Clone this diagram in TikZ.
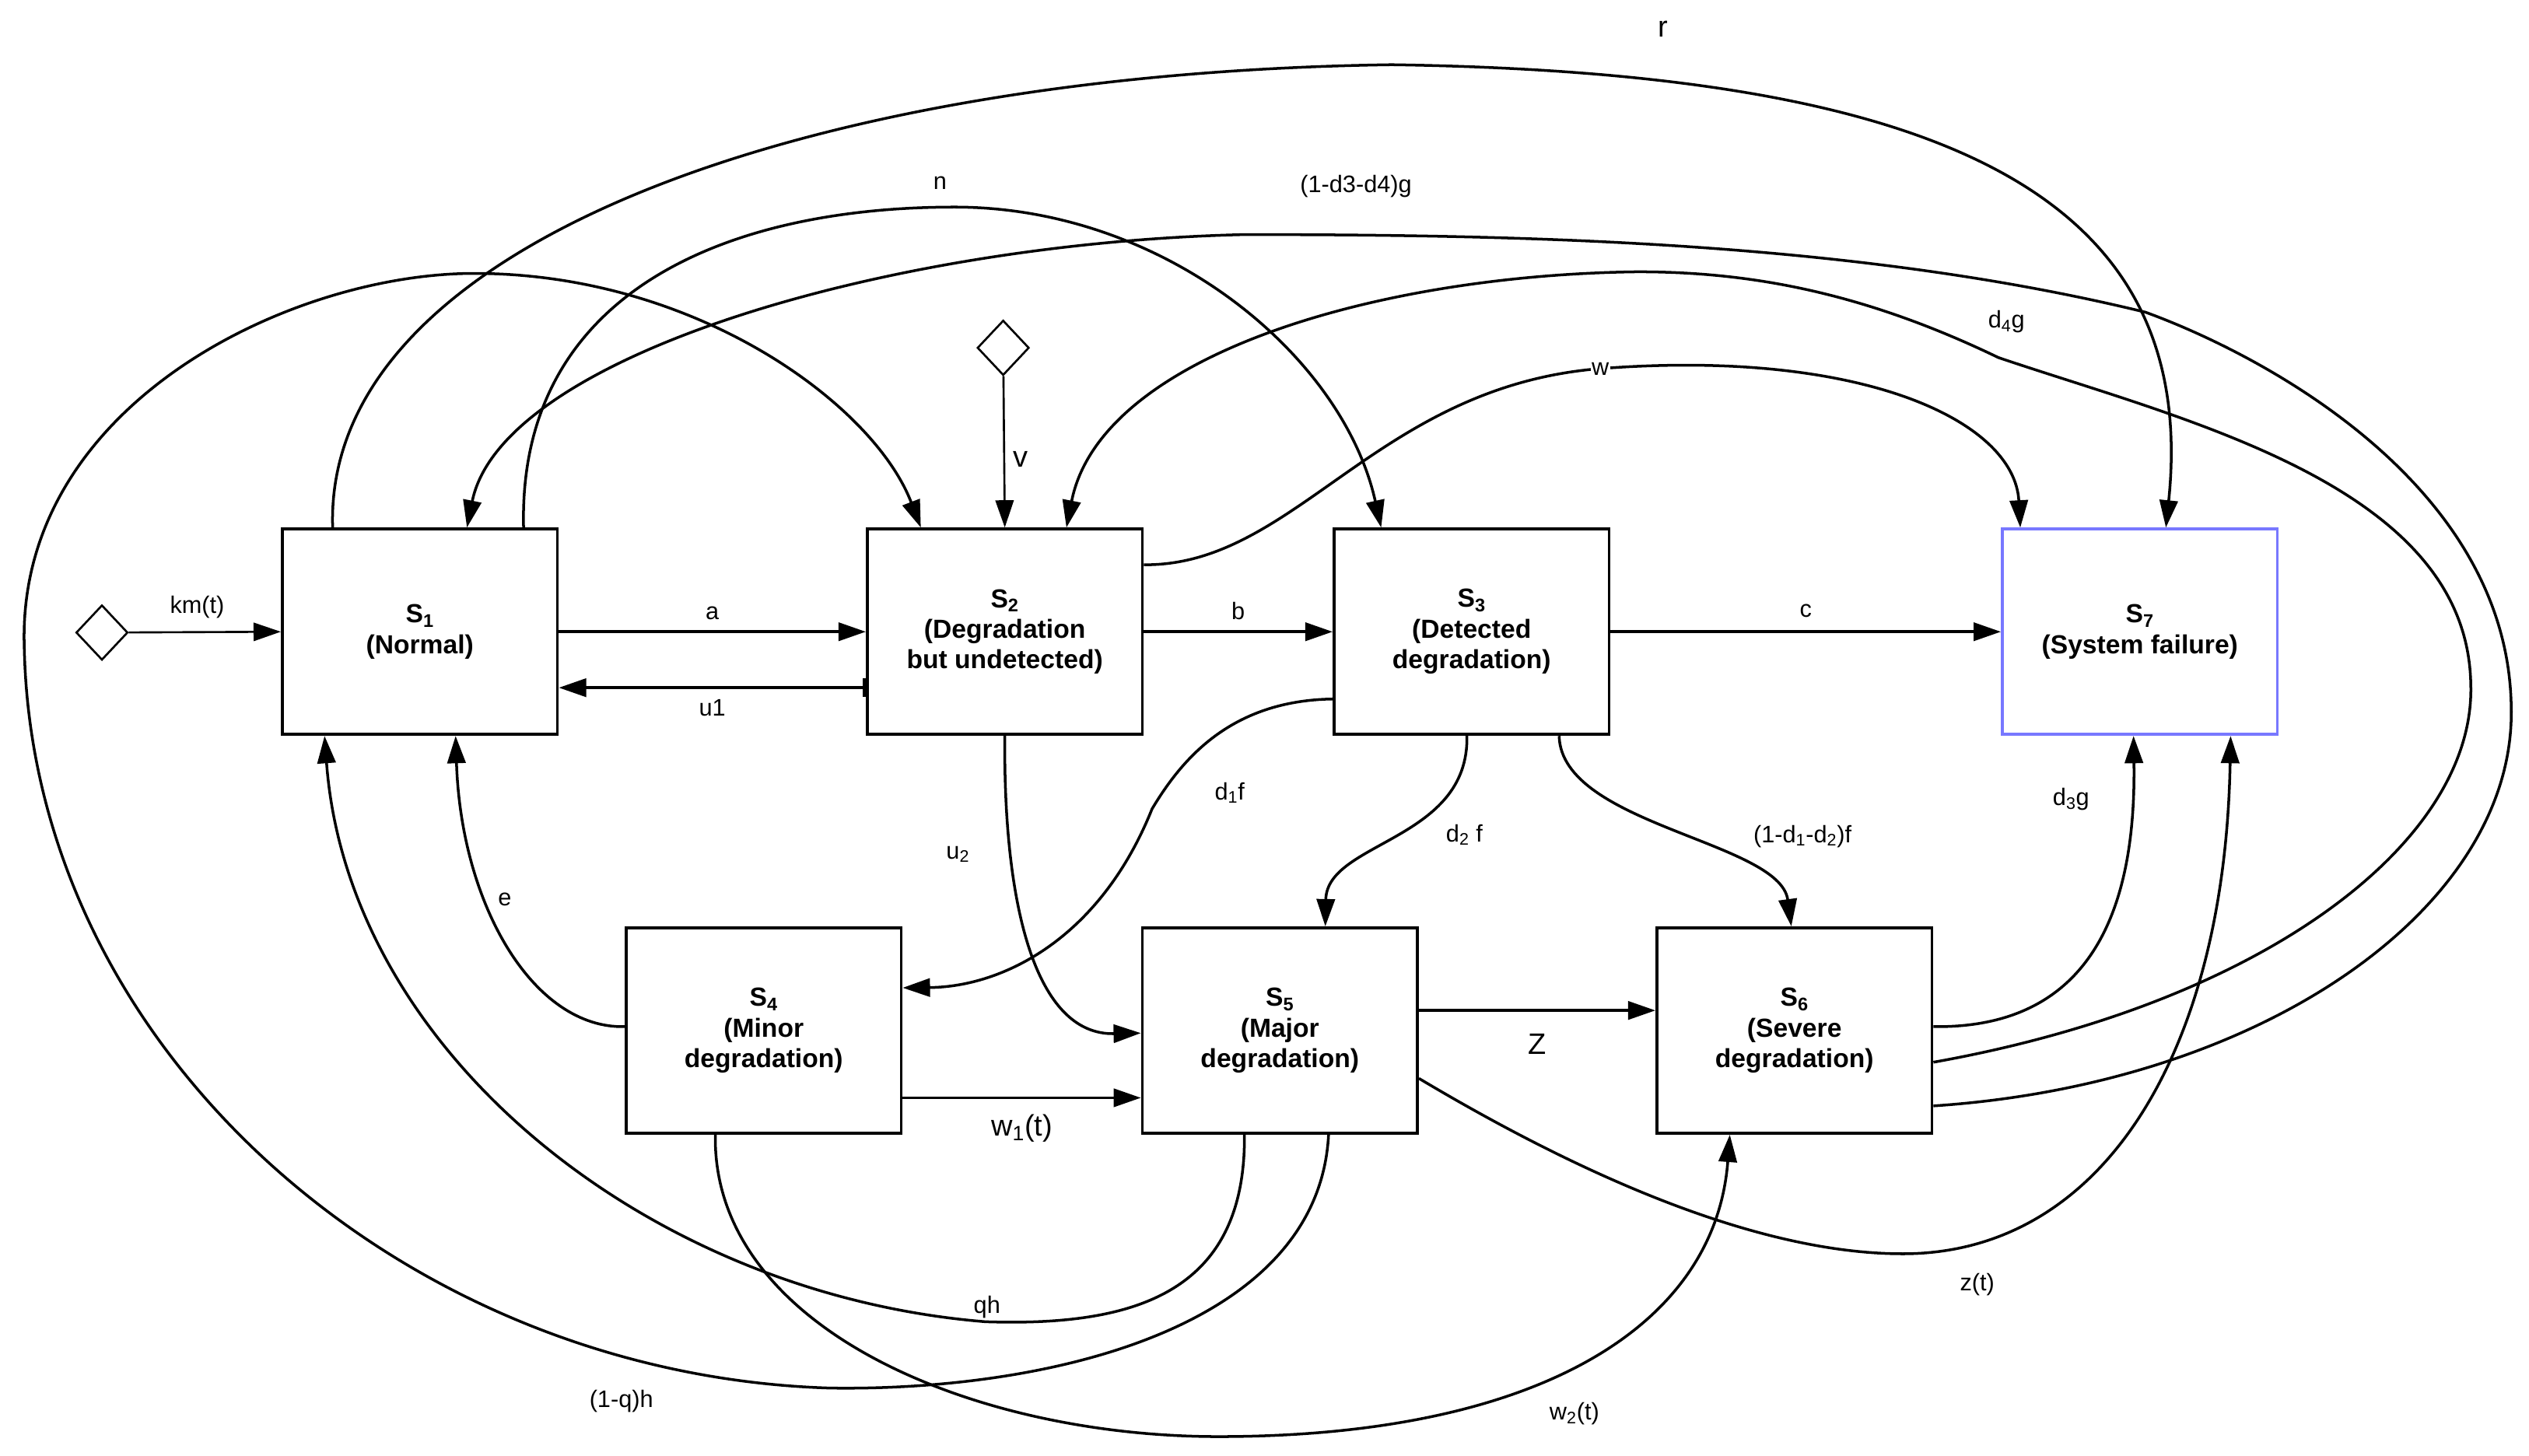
\documentclass[tikz,border=0pt]{standalone}
\usepackage{fontspec}
\setmainfont{Liberation Sans}
\usetikzlibrary{arrows.meta,shapes.geometric}
\begin{document}
\begin{tikzpicture}[x=0.05cm,y=-0.05cm,
  box/.style={draw,line width=2.6pt,minimum width=8.5cm,minimum height=6.35cm,align=center,font=\fontsize{23}{27}\selectfont\bfseries,inner sep=0pt},
  con/.style={line width=2.4pt,-{Triangle[length=24pt,width=16pt]}},
  lbl/.style={font=\fontsize{21}{24}\selectfont},
  big/.style={font=\fontsize{26}{30}\selectfont},
  dia/.style={draw,diamond,line width=1.8pt,minimum width=1.6cm,minimum height=1.7cm,inner sep=0pt,shape aspect=0.9}]
\useasboundingbox (0,0) rectangle (1563,900);
\node[box] (S1) at (259.5,390.5) {S\textsubscript{1}\\(Normal)};
\node[box] (S2) at (621,390.5) {S\textsubscript{2}\\(Degradation\\but undetected)};
\node[box] (S3) at (909.5,390.5) {S\textsubscript{3}\\(Detected\\degradation)};
\node[box,draw={rgb,255:red,120;green,120;blue,255}] (S7) at (1322.5,390.5) {S\textsubscript{7}\\(System failure)};
\node[box] (S4) at (472,637) {S\textsubscript{4}\\(Minor\\degradation)};
\node[box] (S5) at (791,637) {S\textsubscript{5}\\(Major\\degradation)};
\node[box] (S6) at (1109,637) {S\textsubscript{6}\\(Severe\\degradation)};
\node[dia] (D1) at (63,391) {};
\node[dia] (D2) at (620,215) {};
% straight
\draw[con,line width=1.8pt] (D1) -- (S1.west) node[lbl,pos=0.45,above=8pt] {km(t)};
\draw[con,line width=1.8pt] (D2) -- (S2.north) node[lbl,pos=0.55,right=4pt,big] {v};
\draw[con] (S1.east) -- (S2.west) node[lbl,midway,above=6pt] {a};
\draw[line width=2.4pt,{Bar[width=16pt]}-{Triangle[length=24pt,width=16pt]}] ([yshift=-4.95cm]S2.north west) -- ([yshift=-4.95cm]S1.north east) node[lbl,pos=0.5,below=6pt] {u1};
\draw[con] (S2.east) -- (S3.west) node[lbl,midway,above=6pt] {b};
\draw[con] (S3.east) -- (S7.west) node[lbl,midway,above=8pt] {c};
\draw[con] ([yshift=-5.3cm]S4.north east) -- ([yshift=-5.3cm]S5.north west) node[big,midway,below=10pt] {w\textsubscript{1}(t)};
\draw[con] ([yshift=-2.6cm]S5.north east) -- ([yshift=-2.6cm]S6.north west) node[big,midway,below=16pt] {Z};
% curves
\draw[con] ([xshift=1.6cm]S1.north west) .. controls (200,150) and (500,45) .. (860,40) .. controls (1200,45) and (1360,120) .. ([xshift=5.1cm]S7.north west);
\node[big] at (1028,18) {r};
\draw[con] ([xshift=7.5cm]S1.north west) .. controls (320,180) and (450,128) .. (590,128) .. controls (720,128) and (830,220) .. ([xshift=1.5cm]S3.north west);
\node[lbl] at (581,113) {n};
\draw[con] ([xshift=5.8cm]S5.south west) .. controls (815,820) and (650,860) .. (513,858) .. controls (250,850) and (20,650) .. (15,400) .. controls (10,250) and (180,169) .. (293,169) .. controls (430,169) and (540,250) .. ([xshift=1.7cm]S2.north west);
\node[lbl] at (384,866) {(1-q)h};
\draw[con] ([xshift=3.2cm]S5.south west) .. controls (770,800) and (700,820) .. (609,817) .. controls (400,800) and (215,650) .. ([xshift=1.35cm]S1.south west);
\node[lbl] at (610,808) {qh};
\draw[con] ([yshift=-3.1cm]S4.north west) .. controls (330,636) and (285,560) .. ([xshift=5.4cm]S1.south west);
\node[lbl] at (312,556) {e};
\draw[con] ([xshift=2.8cm]S4.south west) .. controls (440,820) and (600,888) .. (753,888) .. controls (950,888) and (1060,820) .. ([xshift=2.3cm]S6.south west);
\node[lbl] at (973,874) {w\textsubscript{2}(t)};
\draw[con] ([yshift=-4.7cm]S5.north east) .. controls (1000,740) and (1100,775) .. (1176,775) .. controls (1300,775) and (1375,650) .. ([xshift=7.1cm]S7.south west);
\node[lbl] at (1222,794) {z(t)};
\draw[con] ([yshift=-3.1cm]S6.north east) .. controls (1300,636) and (1320,550) .. ([xshift=4.1cm]S7.south west);
\node[lbl] at (1280,494) {d\textsubscript{3}g};
\draw[con] ([yshift=-4.2cm]S6.north east) .. controls (1400,620) and (1530,520) .. (1527,423) .. controls (1525,300) and (1350,260) .. (1235,221) .. controls (1150,180) and (1080,168) .. (1012,168) .. controls (850,170) and (680,220) .. ([xshift=6.2cm]S2.north west);
\node[lbl] at (1240,199) {d\textsubscript{4}g};
\draw[con] ([yshift=-5.55cm]S6.north east) .. controls (1400,670) and (1555,560) .. (1552,437) .. controls (1550,300) and (1400,220) .. (1326,193) .. controls (1150,150) and (950,145) .. (769,145) .. controls (550,150) and (310,220) .. ([xshift=5.75cm]S1.north west);
\node[lbl] at (838,115) {(1-d3-d4)g};
\draw[con] ([yshift=-1.15cm]S2.north east) .. controls (800,350) and (850,240) .. (987,228) .. controls (1150,215) and (1245,260) .. ([xshift=0.6cm]S7.north west);
\node[lbl,fill=white,inner sep=1pt] at (989,228) {w};
\draw[con] ([yshift=-5.3cm]S3.north west) .. controls (760,433) and (730,470) .. (712,500) .. controls (680,580) and (620,610) .. ([yshift=-1.9cm]S4.north east);
\node[lbl] at (760,490) {d\textsubscript{1}f};
\draw[con] (S2.south) .. controls (620,560) and (640,640) .. ([yshift=-3.3cm]S5.north west);
\node[lbl] at (592,528) {u\textsubscript{2}};
\draw[con] ([xshift=4.15cm]S3.south west) .. controls (908,520) and (820,520) .. ([xshift=5.7cm]S5.north west);
\node[lbl] at (905,516) {d\textsubscript{2} f};
\draw[con] ([xshift=7cm]S3.south west) .. controls (965,510) and (1100,520) .. ([xshift=4.2cm]S6.north west);
\node[lbl] at (1114,517) {(1-d\textsubscript{1}-d\textsubscript{2})f};
\end{tikzpicture}
\end{document}
